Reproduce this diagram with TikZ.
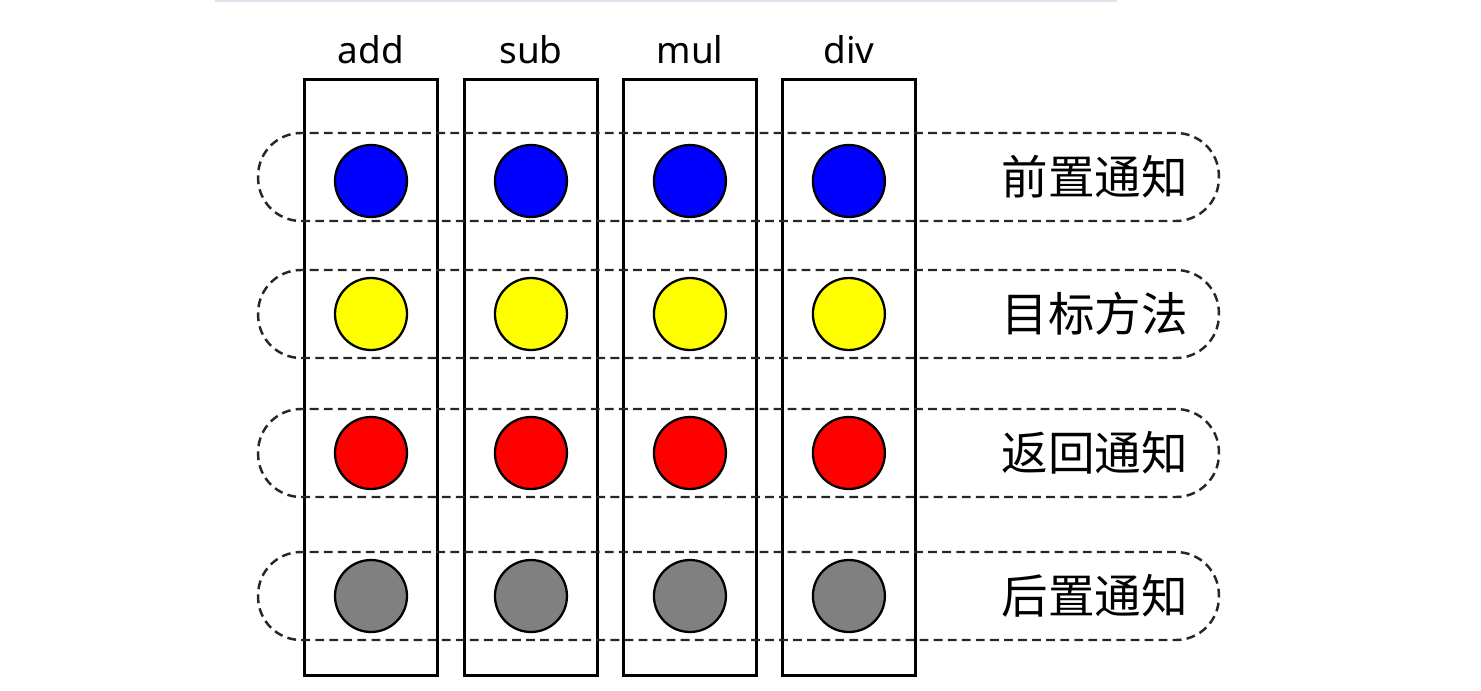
\documentclass[tikz,border=0pt]{standalone}
\usepackage{fontspec}
\setmainfont{Noto Sans}
\newfontfamily\cjk{Noto Sans CJK SC}
\usetikzlibrary{positioning}
\definecolor{rulecolor}{RGB}{220,228,238}
\definecolor{pregray}{RGB}{128,128,128}
\definecolor{dotyellow}{RGB}{255,255,0}
\tikzset{
    %Define style for the method columns
    methodbox/.style={
           rectangle,
           draw=black, line width=1.4pt,
           minimum width=2.66cm,
           minimum height=11.92cm,
           inner sep=0pt, outer sep=0pt},
    %Define style for the dashed bands
    band/.style={
           rectangle,
           rounded corners=0.86cm,
           draw=black!85, line width=1.4pt,
           dash pattern=on 5pt off 3pt,
           minimum width=19.22cm,
           minimum height=1.76cm,
           inner sep=0pt},
    % Define style for the dots
    dot/.style={
           circle,
           draw=black, line width=1.3pt,
           minimum size=1.44cm,
           inner sep=0pt},
    methodname/.style={
           anchor=base,
           font=\fontsize{21}{25}\selectfont},
    phase/.style={
           anchor=east,
           inner sep=0pt,
           font=\cjk\fontsize{26.5}{30}\selectfont}
}
\begin{document}
\begin{tikzpicture}[x=0.02cm, y=-0.02cm]
 \useasboundingbox (0,0) rectangle (1481,690);
 \draw[rulecolor, line width=1.2pt] (215,0.6) -- (1117,0.6);
 %columns
    \node[methodbox] (add) at (371,377.5) {};
    \node[methodbox, right=0.54cm of add] (sub) {};
    \node[methodbox, right=0.52cm of sub] (mul) {};
    \node[methodbox, right=0.52cm of mul] (div) {};
    \node[methodname] at ([yshift=0.32cm]add.north) {add};
    \node[methodname] at ([yshift=0.32cm]sub.north) {sub};
    \node[methodname] at ([yshift=0.32cm]mul.north) {mul};
    \node[methodname] at ([yshift=0.32cm]div.north) {div};
 %bands
    \node[band] (before) at (738.5,177) {};
    \node[band] (target) at (738.5,314) {};
    \node[band] (return) at (738.5,453) {};
    \node[band] (after) at (738.5,596) {};
    \node[phase] at ([xshift=-0.64cm]before.east) {前置通知};
    \node[phase] at ([xshift=-0.64cm]target.east) {目标方法};
    \node[phase] at ([xshift=-0.64cm]return.east) {返回通知};
    \node[phase] at ([xshift=-0.64cm]after.east) {后置通知};
 %dots
    \node[dot, fill=blue] (addb) at (add |- 0,181) {};
    \node[dot, fill=blue] (subb) at (sub |- 0,181) {};
    \node[dot, fill=blue] (mulb) at (mul |- 0,181) {};
    \node[dot, fill=blue] (divb) at (div |- 0,181) {};
    \node[dot, fill=dotyellow] (addt) at (add |- target) {};
    \node[dot, fill=dotyellow] (subt) at (sub |- target) {};
    \node[dot, fill=dotyellow] (mult) at (mul |- target) {};
    \node[dot, fill=dotyellow] (divt) at (div |- target) {};
    \node[dot, fill=red] (addr) at (add |- return) {};
    \node[dot, fill=red] (subr) at (sub |- return) {};
    \node[dot, fill=red] (mulr) at (mul |- return) {};
    \node[dot, fill=red] (divr) at (div |- return) {};
    \node[dot, fill=pregray] (adda) at (add |- after) {};
    \node[dot, fill=pregray] (suba) at (sub |- after) {};
    \node[dot, fill=pregray] (mula) at (mul |- after) {};
    \node[dot, fill=pregray] (diva) at (div |- after) {};
\end{tikzpicture}
\end{document}
